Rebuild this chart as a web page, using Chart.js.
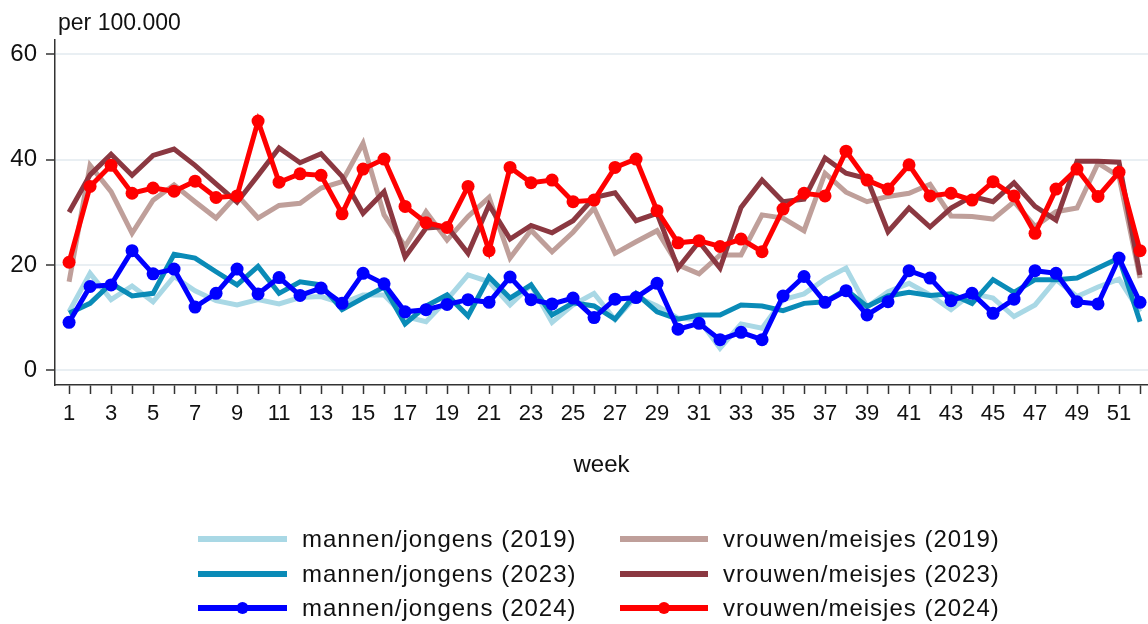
<!DOCTYPE html>
<html>
<head>
<meta charset="utf-8">
<script src="https://cdn.jsdelivr.net/npm/chart.js@4/dist/chart.umd.min.js"></script>
<style>
  html, body { margin: 0; padding: 0; background: #fff; }
  #wrap { width: 1148px; height: 624px; position: relative; }
</style>
</head>
<body>
<div id="wrap"><canvas id="c" width="1148" height="624"></canvas></div>
<script>
// ---- data ----
const weeks = [1,2,3,4,5,6,7,8,9,10,11,12,13,14,15,16,17,18,19,20,21,22,23,24,25,26,
               27,28,29,30,31,32,33,34,35,36,37,38,39,40,41,42,43,44,45,46,47,48,49,50,51,52];
const yTicks = [0, 20, 40, 60];

const men2019 = [11.1,18.4,13.4,16.0,13.0,17.8,15.1,13.2,12.4,13.4,12.6,13.8,14.0,12.7,14.3,14.3,10.2,9.2,13.4,18.1,16.8,12.4,16.2,9.1,12.4,14.6,
                 9.6,14.0,12.2,9.9,9.6,4.2,8.8,8.0,13.4,14.5,17.3,19.4,12.0,14.9,16.5,14.3,11.5,14.6,13.7,10.2,12.4,17.2,14.0,15.8,17.3,11.1];
const men2023 = [10.8,12.7,16.5,14.1,14.6,22.0,21.3,18.7,16.2,19.7,14.6,16.8,16.2,11.5,13.7,15.8,8.8,12.2,14.3,10.3,17.7,13.7,16.2,10.5,12.8,12.2,
                 9.7,14.6,11.1,9.7,10.5,10.5,12.4,12.2,11.3,12.7,13.0,15.3,12.1,14.1,14.8,14.2,14.5,12.7,17.2,14.8,17.2,17.2,17.5,19.4,21.3,9.2];
const men2024 = [9.1,15.9,16.2,22.7,18.3,19.2,12.0,14.6,19.2,14.5,17.6,14.2,15.6,12.7,18.4,16.4,11.1,11.5,12.5,13.4,12.9,17.7,13.4,12.6,13.7,10.0,
                 13.5,13.8,16.5,7.8,8.9,5.8,7.2,5.8,14.1,17.8,12.9,15.1,10.5,13.0,18.9,17.5,13.2,14.6,10.8,13.5,18.9,18.4,13.0,12.6,21.3,12.9];
const women2019 = [16.8,38.9,33.9,26.0,32.3,35.2,32.0,28.9,33.3,28.9,31.3,31.7,34.6,35.8,43.1,29.5,23.5,30.1,24.7,29.2,32.8,21.3,26.6,22.5,26.2,30.8,
                   22.2,24.4,26.5,20.0,18.3,21.9,21.9,29.5,28.9,26.5,37.4,33.8,32.0,33.0,33.6,35.3,29.3,29.2,28.7,32.0,27.3,30.1,30.8,39.3,36.8,17.5];
const women2023 = [30.0,37.1,41.0,37.0,40.8,42.0,38.9,35.4,31.9,37.0,42.2,39.4,41.1,36.8,29.8,33.9,21.5,27.0,27.3,22.2,31.4,24.9,27.5,26.1,28.4,32.8,
                   33.7,28.4,29.8,19.4,24.4,19.4,30.9,36.1,32.0,32.5,40.3,37.4,36.4,26.3,30.8,27.2,30.8,33.0,32.0,35.6,31.1,28.5,39.7,39.7,39.5,18.1];
const women2024 = [20.5,34.9,38.9,33.6,34.6,34.0,35.9,32.8,33.1,47.3,35.7,37.3,37.0,29.7,38.2,40.1,31.1,28.0,27.1,34.9,22.7,38.5,35.6,36.1,32.0,32.3,
                   38.5,40.1,30.3,24.2,24.6,23.5,24.9,22.5,30.6,33.6,33.1,41.6,36.1,34.4,39.0,33.1,33.6,32.3,35.8,33.1,26.0,34.4,38.2,33.0,37.6,22.7];

const seriesLabels = ['mannen/jongens (2019)','mannen/jongens (2023)','mannen/jongens (2024)',
                      'vrouwen/meisjes (2019)','vrouwen/meisjes (2023)','vrouwen/meisjes (2024)'];
const seriesValues = [men2019, men2023, men2024, women2019, women2023, women2024];
const seriesColors = ['#a9d8e5', '#0a8bb7', '#0000ff', '#bf9f9a', '#8b3841', '#ff0000'];
const seriesMarkers = [false, false, true, false, false, true];
const seriesOrder = [5, 4, 1, 3, 2, 0];

const FONT = "'Liberation Sans', Arial, Helvetica, sans-serif";
Chart.defaults.font.family = FONT;
Chart.defaults.color = '#111';

const datasets = seriesValues.map((vals, i) => ({
  label: seriesLabels[i],
  data: vals.map((v, j) => ({ x: weeks[j], y: v })),
  borderColor: seriesColors[i],
  backgroundColor: seriesColors[i],
  borderWidth: 5,
  pointRadius: seriesMarkers[i] ? 6.5 : 0,
  pointBorderWidth: 0,
  pointHoverRadius: seriesMarkers[i] ? 6.5 : 0,
  tension: 0,
  order: seriesOrder[i],
  borderJoinStyle: 'miter',
  clip: false,
  _marker: seriesMarkers[i]
}));

const legendPlugin = {
  id: 'customLegend',
  afterDraw(chart) {
    const ctx = chart.ctx;
    ctx.save();
    // top-left unit label
    ctx.font = "23px " + FONT;
    ctx.fillStyle = '#111';
    ctx.textAlign = 'left';
    ctx.textBaseline = 'middle';
    ctx.fillText('per 100.000', 58, 24);

    // legend: two columns, three rows
    const cols = [{ x1: 198, x2: 287, tx: 302 }, { x1: 620, x2: 708, tx: 723 }];
    const rows = [539, 574, 608];
    ctx.font = "24px " + FONT;
    try { ctx.letterSpacing = '1px'; } catch (e) {}
    chart.data.datasets.forEach((ds, i) => {
      const c = cols[Math.floor(i / 3)];
      const y = rows[i % 3];
      ctx.strokeStyle = ds.borderColor;
      ctx.lineWidth = 6;
      ctx.lineCap = 'butt';
      ctx.beginPath();
      ctx.moveTo(c.x1, y);
      ctx.lineTo(c.x2, y);
      ctx.stroke();
      if (ds._marker) {
        ctx.fillStyle = ds.backgroundColor;
        ctx.beginPath();
        ctx.arc((c.x1 + c.x2) / 2, y, 6, 0, Math.PI * 2);
        ctx.fill();
      }
      ctx.fillStyle = '#111';
      ctx.fillText(ds.label, c.tx, y + 1);
    });
    ctx.restore();
  }
};

new Chart(document.getElementById('c'), {
  type: 'line',
  data: { datasets },
  options: {
    responsive: false,
    animation: false,
    devicePixelRatio: 1,
    layout: { autoPadding: false, padding: { top: 40, left: 0, right: 0, bottom: 144 } },
    plugins: {
      legend: { display: false },
      tooltip: { enabled: false },
      title: { display: false }
    },
    scales: {
      x: {
        type: 'linear',
        min: 0.33,
        max: 52.38,
        afterBuildTicks: (s) => { s.ticks = weeks.map(w => ({ value: w })); },
        afterFit: (s) => { s.height = 95; s.paddingLeft = 0; s.paddingRight = 0; },
        ticks: {
          autoSkip: false,
          maxRotation: 0,
          padding: 7,
          color: '#111',
          font: { size: 22 },
          callback: (v) => (v % 2 === 1 ? String(v) : '')
        },
        grid: {
          drawOnChartArea: false,
          drawTicks: true,
          tickLength: 9,
          tickWidth: 1.5,
          tickColor: '#333'
        },
        border: { display: true, color: '#333', width: 1.5 },
        title: {
          display: true,
          text: 'week',
          font: { size: 24 },
          color: '#111',
          padding: { top: 0, bottom: 0 }
        }
      },
      y: {
        type: 'linear',
        min: -2.8,
        max: 62.7,
        afterBuildTicks: (s) => { s.ticks = yTicks.map(v => ({ value: v })); },
        afterFit: (s) => { s.width = 55; s.paddingTop = 0; s.paddingBottom = 0; },
        ticks: {
          padding: 9,
          color: '#111',
          font: { size: 24 }
        },
        grid: {
          color: '#e9eff3',
          lineWidth: 2,
          drawTicks: true,
          tickLength: 9,
          tickWidth: 1.5,
          tickColor: '#333'
        },
        border: { display: true, color: '#333', width: 1.5 }
      }
    }
  },
  plugins: [legendPlugin]
});
</script>
</body>
</html>
